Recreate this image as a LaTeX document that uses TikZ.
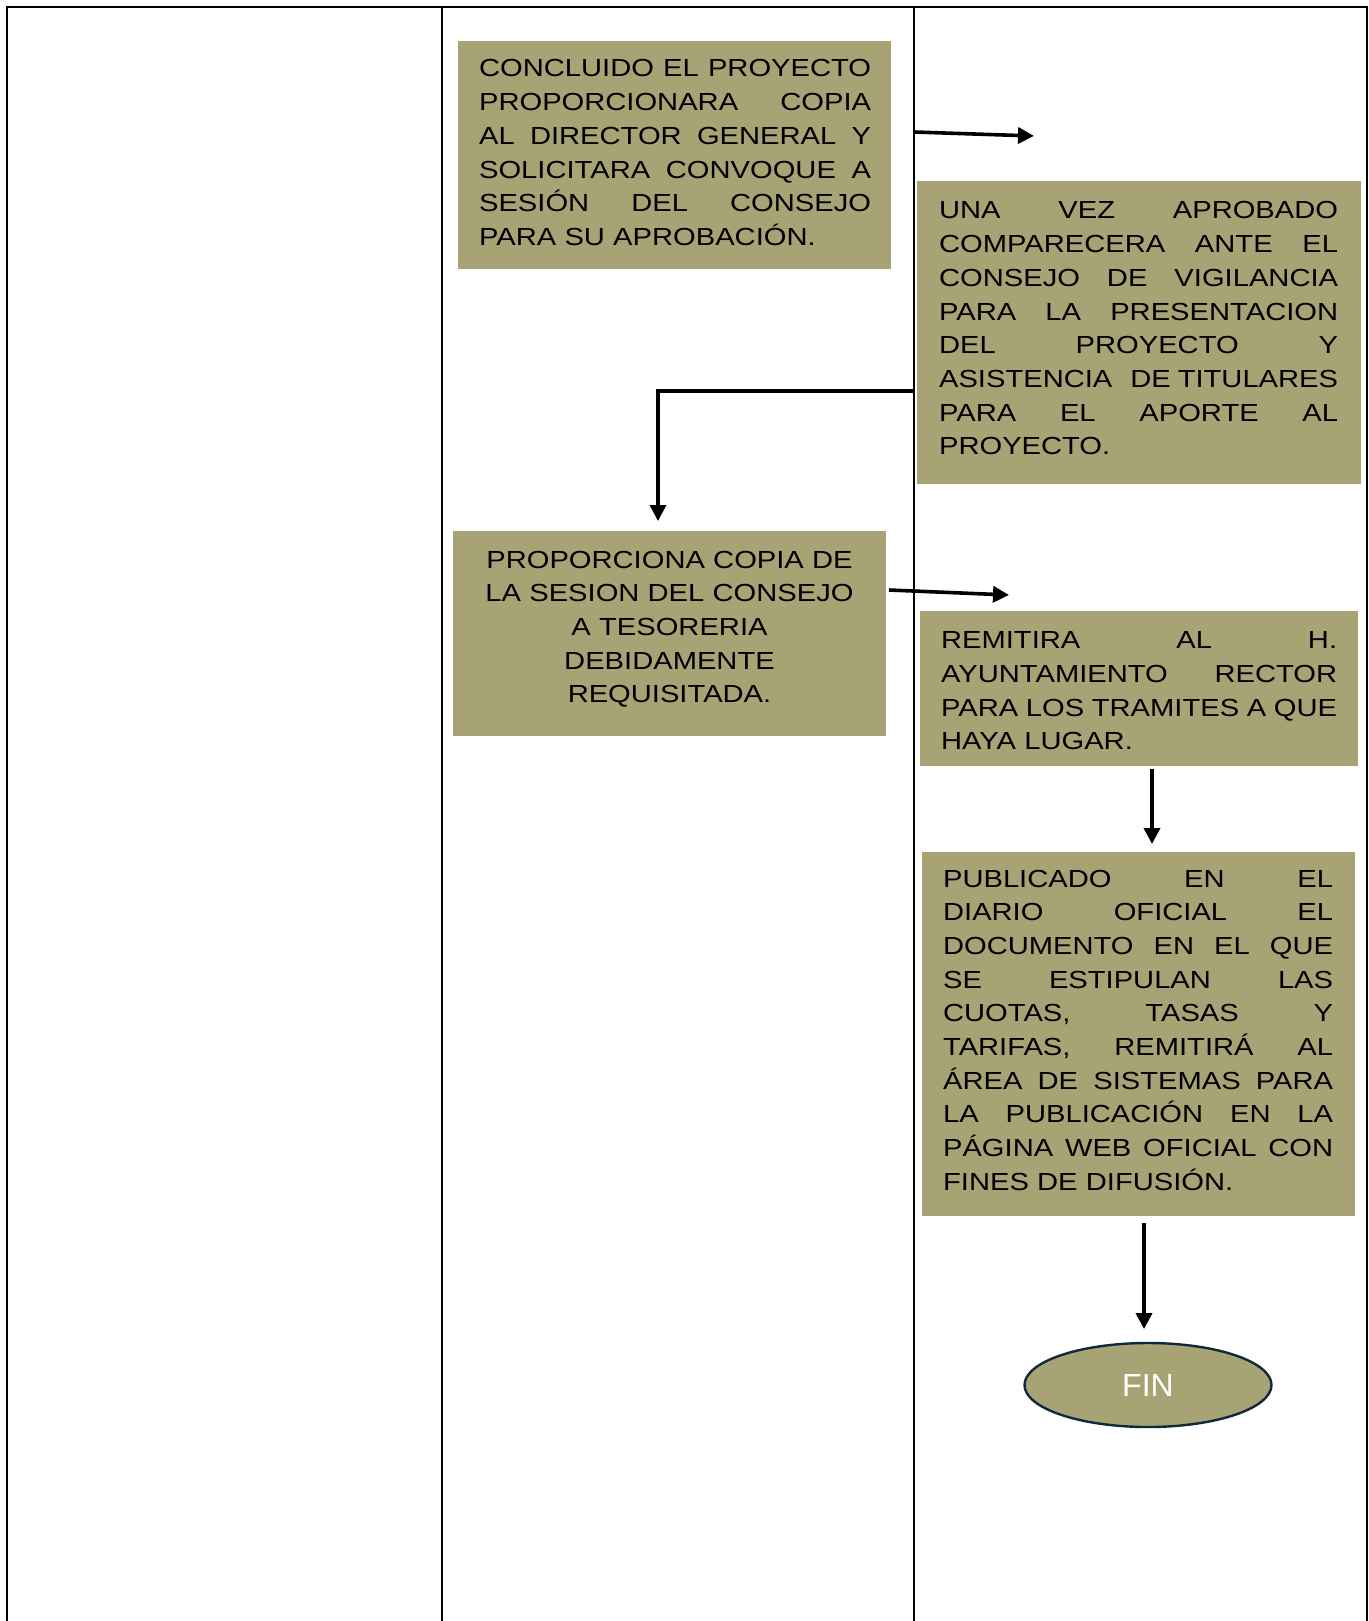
\documentclass[tikz,border=0pt]{standalone}
\usepackage{fontspec}
\setmainfont{Liberation Sans}
\newfontfamily\boxfont{Liberation Sans}[FakeStretch=1.18]
\usetikzlibrary{arrows.meta,shapes.geometric}
\definecolor{boxolive}{RGB}{167,163,116}
\definecolor{finborder}{RGB}{16,41,58}
\newcommand\jl[1]{{\spaceskip=0.278em plus 10em\relax\xspaceskip=0pt\makebox[\bw][s]{#1}}\\}
\tikzset{
  tbl/.style={line width=1.2pt, black},
  stepbox/.style={fill=boxolive, draw=none, anchor=north west, inner sep=0pt},
  txt/.style={font=\boxfont\fontsize{12.35pt}{16.85pt}\selectfont, align=left, inner sep=0pt, anchor=base west},
  arr/.style={line width=1.8pt, -{Triangle[length=8pt,width=8pt]}},
}
\begin{document}
\begin{tikzpicture}[x=0.5pt,y=-0.5pt]
\useasboundingbox (0,0) rectangle (1369,1621);
% table
\draw[tbl] (7,1621) -- (7,7.3) -- (1367,7.3) -- (1367,1621);
\draw[tbl] (442,7.3) -- (442,1621);
\draw[tbl] (914,7.3) -- (914,1621);

% box 1
\node[stepbox, minimum width=216.5pt, minimum height=114pt] (b1) at (458,41) {};
\node[txt, text width=196pt] (t1) at (478.7,77) {\def\bw{196pt}%
\jl{CONCLUIDO EL PROYECTO}
\jl{PROPORCIONARA COPIA}
\jl{AL DIRECTOR GENERAL Y}
\jl{SOLICITARA CONVOQUE A}
\jl{SESIÓN DEL CONSEJO}
PARA SU APROBACIÓN.};

% box 2
\node[stepbox, minimum width=222pt, minimum height=151.5pt] (b2) at (917,181) {};
\node[txt, text width=199.5pt] (t2) at (938.7,219) {\def\bw{199.5pt}%
\jl{UNA VEZ APROBADO}
\jl{COMPARECERA ANTE EL}
\jl{CONSEJO DE VIGILANCIA}
\jl{PARA LA PRESENTACION}
\jl{DEL PROYECTO Y}
\jl{ASISTENCIA\hfill\ DE~TITULARES}
\jl{PARA EL APORTE AL}
PROYECTO.};

% box 3
\node[stepbox, minimum width=216.5pt, minimum height=102.5pt] (b3) at (453,531) {};
\node[txt, text width=216.5pt, align=center, anchor=base] (t3) at (669.5,568) {%
PROPORCIONA COPIA DE\\
LA SESION DEL CONSEJO\\
A TESORERIA\\
DEBIDAMENTE\\
REQUISITADA.};

% box 4
\node[stepbox, minimum width=219pt, minimum height=77.5pt] (b4) at (920,611) {};
\node[txt, text width=198pt] (t4) at (940.7,648.7) {\def\bw{198pt}%
\jl{REMITIRA AL H.}
\jl{AYUNTAMIENTO RECTOR}
\jl{PARA LOS TRAMITES A QUE}
HAYA LUGAR.};

% box 5
\node[stepbox, minimum width=216.5pt, minimum height=182pt] (b5) at (922,852) {};
\node[txt, text width=195pt] (t5) at (942.7,887) {\def\bw{195pt}%
\jl{PUBLICADO EN EL}
\jl{DIARIO OFICIAL EL}
\jl{DOCUMENTO EN EL QUE}
\jl{SE ESTIPULAN LAS}
\jl{CUOTAS, TASAS Y}
\jl{TARIFAS, REMITIRÁ AL}
\jl{ÁREA DE SISTEMAS PARA}
\jl{LA PUBLICACIÓN EN LA}
\jl{PÁGINA WEB OFICIAL CON}
FINES DE DIFUSIÓN.};

% end
\node[ellipse, fill=boxolive, draw=finborder, line width=1.2pt, minimum width=123.5pt, minimum height=42pt, inner sep=0pt, text=white, font=\fontsize{16pt}{19pt}\selectfont] (fin) at (1148,1385) {FIN};

% connectors
\coordinate (a1s) at (914,132);
\coordinate (a1e) at (1034,136);
\draw[arr] (a1s) -- (a1e);
\coordinate (a2s) at (913,391);
\coordinate (a2e) at (658,521);
\draw[arr] (a2s) -| (a2e);
\coordinate (a3s) at (889,590);
\coordinate (a3e) at (1009,595);
\draw[arr] (a3s) -- (a3e);
\coordinate (a4s) at (1152,769);
\coordinate (a4e) at (1152,844);
\draw[arr] (a4s) -- (a4e);
\coordinate (a5s) at (1144,1223);
\coordinate (a5e) at (1144,1329);
\draw[arr] (a5s) -- (a5e);
\end{tikzpicture}
\end{document}
